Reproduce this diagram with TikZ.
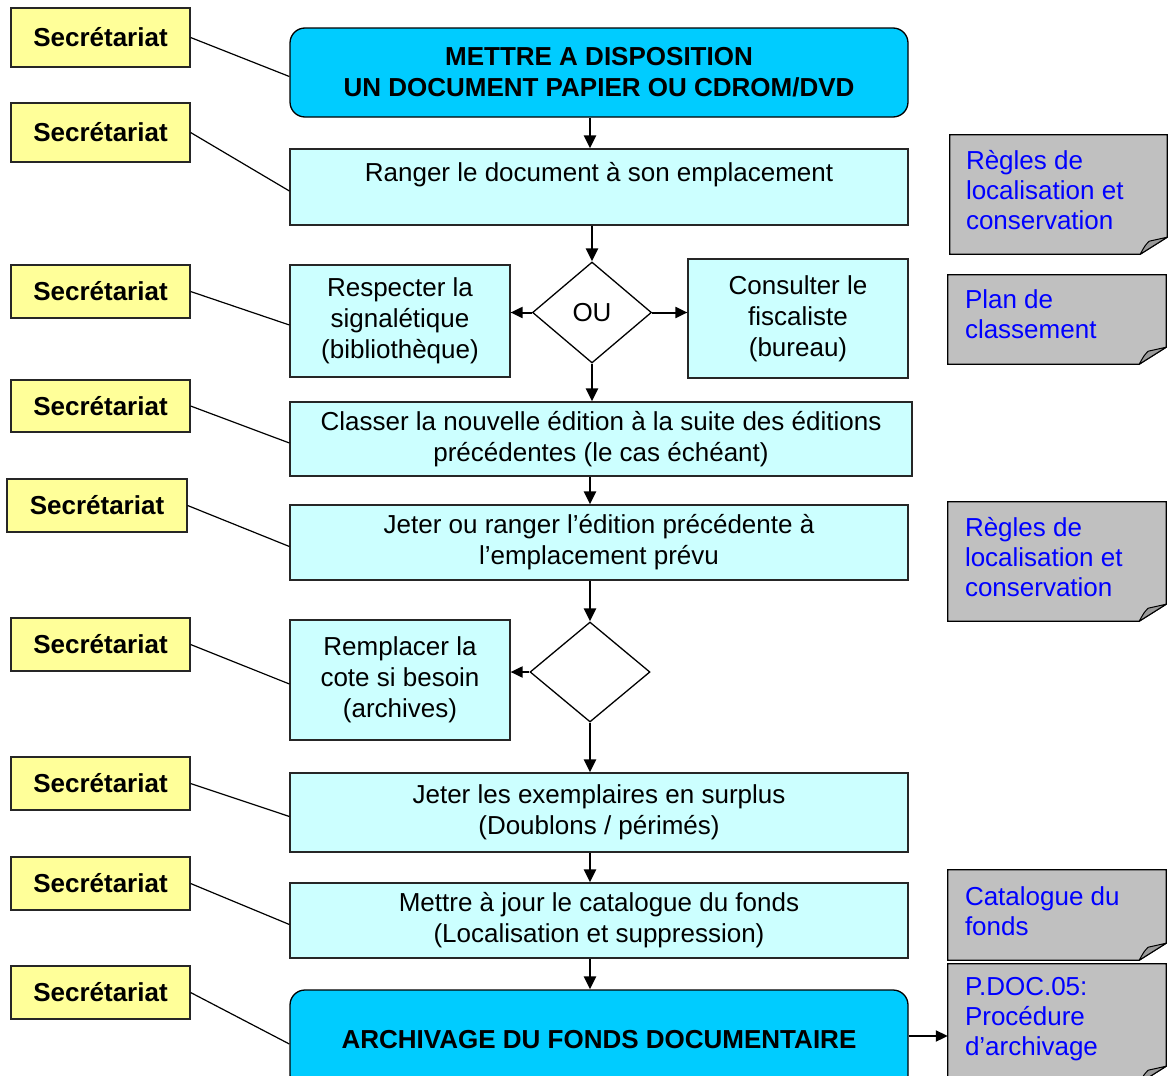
\documentclass[tikz,border=0pt]{standalone}
\usepackage{fontspec}
\setmainfont{Liberation Sans}
\usetikzlibrary{shapes.geometric,arrows.meta}
\definecolor{secyellow}{HTML}{FFFF99}
\definecolor{proccyan}{HTML}{CCFFFF}
\definecolor{termblue}{HTML}{00CCFF}
\definecolor{notegray}{HTML}{C0C0C0}
\definecolor{foldgray}{HTML}{9A9A9A}
\definecolor{noteblue}{HTML}{0000FF}
\newcommand\myfont{\fontsize{26}{31}\selectfont}
\newcommand\notefont{\fontsize{26}{30}\selectfont}
\newcommand\drawnote[1]{%
  \draw[notebox] (#1.north west) -- (#1.north east) -- ([yshift=17pt]#1.south east)
    -- ([xshift=-27pt]#1.south east) -- (#1.south west) -- cycle;
  \draw[foldbox] ([xshift=-27pt]#1.south east) .. controls ([xshift=-22pt,yshift=9pt]#1.south east) .. ([xshift=-18pt,yshift=13pt]#1.south east)
    -- ([yshift=17pt]#1.south east) -- cycle;}
\begin{document}
\begin{tikzpicture}[x=1pt,y=-1pt,
  sec/.style={draw=black!85, fill=secyellow, line width=1.2pt, font=\myfont\bfseries, inner sep=0pt, minimum width=179pt},
  proc/.style={draw=black!85, fill=proccyan, line width=1.2pt, font=\myfont, align=center, inner sep=0pt},
  term/.style={draw=black, fill=termblue, line width=1.3pt, font=\myfont\bfseries, align=center, inner sep=0pt, rounded corners=15pt},
  dec/.style={diamond, draw, fill=white, line width=1.3pt, font=\myfont, inner sep=0pt},
  notenode/.style={draw=none, inner sep=0pt},
  notebox/.style={fill=notegray, draw=black, line width=1.3pt},
  foldbox/.style={fill=foldgray, draw=black, line width=1pt, line join=round},
  notetext/.style={font=\notefont, text=noteblue, align=left, inner sep=0pt, anchor=west},
  link/.style={line width=1.2pt},
  arr/.style={line width=2.5pt, -{Triangle[length=13pt,width=12pt]}},
  harr/.style={line width=2pt, -{Triangle[length=12pt,width=11pt]}}
]
\useasboundingbox (0,0) rectangle (1171,1076);
\clip (0,0) rectangle (1171,1076);

% Secretariat boxes
\node[sec, minimum height=59pt] (s1) at (100.5,37.5) {Secrétariat};
\node[sec, minimum height=59pt] (s2) at (100.5,132.5) {Secrétariat};
\node[sec, minimum height=53pt] (s3) at (100.5,291.5) {Secrétariat};
\node[sec, minimum height=52pt] (s4) at (100.5,406) {Secrétariat};
\node[sec, minimum height=53pt, minimum width=180pt] (s5) at (97,505.5) {Secrétariat};
\node[sec, minimum height=53pt] (s6) at (100.5,644.5) {Secrétariat};
\node[sec, minimum height=53pt] (s7) at (100.5,783.5) {Secrétariat};
\node[sec, minimum height=53pt] (s8) at (100.5,883.5) {Secrétariat};
\node[sec, minimum height=53pt] (s9) at (100.5,992.5) {Secrétariat};

% Main flow
\node[term, minimum width=618pt, minimum height=89pt] (p1) at (599,72.5) {METTRE A DISPOSITION\\UN DOCUMENT PAPIER OU CDROM/DVD};
\node[proc, minimum width=618pt, minimum height=76pt] (p2) at (599,187) {Ranger le document à son emplacement\\\mbox{}};
\node[proc, minimum width=220pt, minimum height=112pt] (r3) at (400,321) {Respecter la\\signalétique\\(bibliothèque)};
\node[dec, minimum width=119pt, minimum height=101pt] (d1) at (592,312.5) {OU};
\node[proc, minimum width=220pt, minimum height=119pt] (r3b) at (798,318.5) {Consulter le\\fiscaliste\\(bureau)};
\node[proc, minimum width=622pt, minimum height=74pt] (p4) at (601,439) {Classer la nouvelle édition à la suite des éditions\\précédentes (le cas échéant)};
\node[proc, minimum width=618pt, minimum height=75pt] (p5) at (599,542.5) {Jeter ou ranger l’édition précédente à\\l’emplacement prévu};
\node[proc, minimum width=220pt, minimum height=120pt] (r6) at (400,680) {Remplacer la\\cote si besoin\\(archives)};
\node[dec, minimum width=120pt, minimum height=100pt] (d2) at (590,672) {};
\node[proc, minimum width=618pt, minimum height=79pt] (p7) at (599,812.5) {Jeter les exemplaires en surplus\\(Doublons / périmés)};
\node[proc, minimum width=618pt, minimum height=75pt] (p8) at (599,920.5) {Mettre à jour le catalogue du fonds\\(Localisation et suppression)};
\node[term, minimum width=618pt, minimum height=100pt] (p9) at (599,1040) {ARCHIVAGE DU FONDS DOCUMENTAIRE};

% Notes
\node[notenode, minimum width=217pt, minimum height=119pt] (na) at (1058.5,194.5) {};
\node[notenode, minimum width=218pt, minimum height=89pt] (nb) at (1057,319.5) {};
\node[notenode, minimum width=218pt, minimum height=119pt] (nc) at (1057,561.5) {};
\node[notenode, minimum width=218pt, minimum height=90pt] (nd) at (1057,915) {};
\node[notenode, minimum width=218pt, minimum height=119pt] (ne) at (1057,1023.5) {};
\drawnote{na}
\drawnote{nb}
\drawnote{nc}
\drawnote{nd}
\drawnote{ne}
\node[notetext] (ta) at ([shift={(16pt,4.5pt)}]na.west) {Règles de\\localisation et\\conservation};
\node[notetext] (tb) at ([shift={(17pt,5.5pt)}]nb.west) {Plan de\\classement};
\node[notetext] (tc) at ([shift={(17pt,4.5pt)}]nc.west) {Règles de\\localisation et\\conservation};
\node[notetext] (td) at ([shift={(17pt,4pt)}]nd.west) {Catalogue du\\fonds};
\node[notetext] (te) at ([shift={(17pt,4.5pt)}]ne.west) {P.DOC.05:\\Procédure\\d’archivage};

% Secretariat links
\foreach \s/\p in {s1/p1,s2/p2,s3/r3,s4/p4,s5/p5,s6/r6,s7/p7,s8/p8,s9/p9}
  \draw[link] (\s.east) -- ([yshift=-4pt]\p.west);

% Arrows
\coordinate (ax) at (590,0);
\draw[arr] (p1.south -| ax) -- (p2.north -| ax);
\draw[arr] (p2.south -| d1.north) -- (d1.north);
\draw[harr] (d1.west) -- (d1.west -| r3.east);
\draw[harr] (d1.east) -- (d1.east -| r3b.west);
\draw[arr] (d1.south) -- (d1.south |- p4.north);
\draw[arr] (p4.south -| ax) -- (p5.north -| ax);
\draw[arr] (p5.south -| d2.north) -- (d2.north);
\draw[harr] (d2.west) -- (d2.west -| r6.east);
\draw[arr] (d2.south) -- (d2.south |- p7.north);
\draw[arr] (p7.south -| ax) -- (p8.north -| ax);
\draw[arr] (p8.south -| ax) -- (p9.north -| ax);
\draw[harr] ([yshift=4pt]p9.east) -- ([yshift=4pt]p9.east -| ne.west);
\end{tikzpicture}
\end{document}
